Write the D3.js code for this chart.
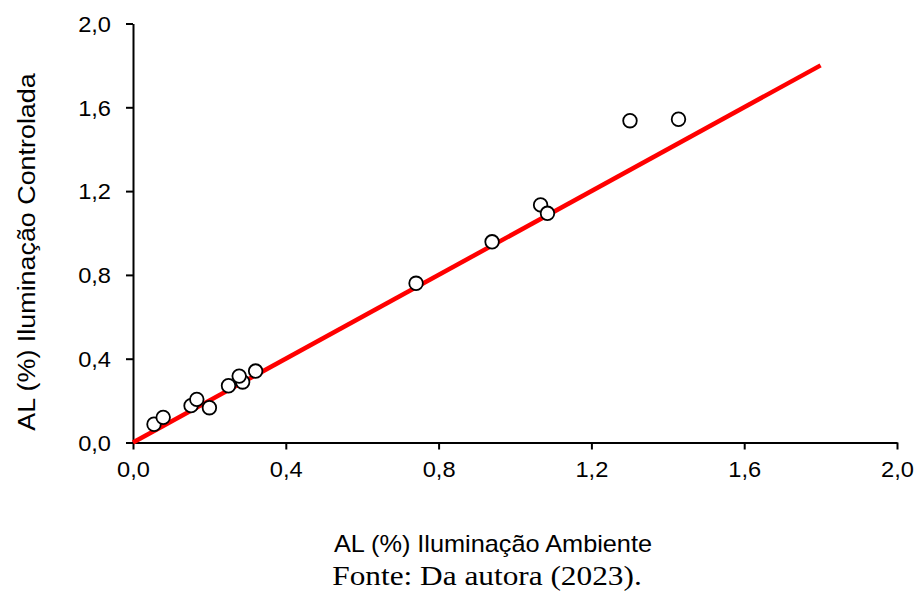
<!DOCTYPE html>
<html>
<head>
<meta charset="utf-8">
<script src="https://cdn.jsdelivr.net/npm/d3@7"></script>
<style>
  html, body { margin: 0; padding: 0; background: #fff; }
  svg { display: block; }
</style>
</head>
<body>
<svg id="chart" width="916" height="591"></svg>
<script>
// AL (%) under ambient lighting vs. controlled lighting
const ambiente = [0.055, 0.079, 0.152, 0.167, 0.200, 0.250, 0.287, 0.278, 0.321, 0.741, 0.940, 1.067, 1.085, 1.301, 1.428];
const controlada = [0.087, 0.120, 0.176, 0.206, 0.166, 0.271, 0.289, 0.317, 0.341, 0.760, 0.958, 1.134, 1.094, 1.536, 1.543];
const lineX = [0, 1.8];
const lineY = [0, 1.8];
const tickValues = [0, 0.4, 0.8, 1.2, 1.6, 2.0];

const fmt = v => d3.format(".1f")(v).replace(".", ",");
const SANS = "'Liberation Sans', Arial, sans-serif";
const SERIF = "'Liberation Serif', 'Times New Roman', serif";
const stretch = 1.1; // tick labels are set slightly wide

const svg = d3.select("#chart");
const x = d3.scaleLinear().domain([0, 2]).range([133, 897]);
const y = d3.scaleLinear().domain([0, 2]).range([442.5, 23.5]);

const xAxis = svg.append("g")
  .attr("transform", `translate(0,${y(0)})`)
  .call(d3.axisBottom(x).tickValues(tickValues).tickFormat(fmt).tickSize(7).tickSizeOuter(0));
const yAxis = svg.append("g")
  .attr("transform", `translate(${x(0)},0)`)
  .call(d3.axisLeft(y).tickValues(tickValues).tickFormat(fmt).tickSize(7).tickSizeOuter(0));

[xAxis, yAxis].forEach(g => {
  g.select(".domain").attr("stroke", "#000").attr("stroke-width", 2);
  g.selectAll(".tick line").attr("stroke", "#000").attr("stroke-width", 2);
  g.selectAll(".tick text")
    .attr("fill", "#000")
    .style("font-family", SANS)
    .style("font-size", "21.5px");
});
xAxis.selectAll(".tick text")
  .attr("y", 35).attr("dy", 0)
  .attr("transform", `scale(${stretch},1)`);
yAxis.selectAll(".tick text")
  .attr("x", -22 / stretch).attr("dy", "0.36em")
  .attr("transform", `scale(${stretch},1)`);

// fitted line
svg.append("line")
  .attr("x1", x(lineX[0])).attr("y1", y(lineY[0]))
  .attr("x2", x(lineX[1])).attr("y2", y(lineY[1]))
  .attr("stroke", "#ff0000").attr("stroke-width", 4.5);

// observations
svg.append("g").selectAll("circle")
  .data(ambiente.map((a, i) => [a, controlada[i]]))
  .join("circle")
  .attr("cx", d => x(d[0]))
  .attr("cy", d => y(d[1]))
  .attr("r", 6.8)
  .attr("fill", "#fff")
  .attr("stroke", "#000")
  .attr("stroke-width", 1.8);

svg.append("text")
  .attr("transform", `translate(493,552) scale(1.1,1)`)
  .attr("text-anchor", "middle")
  .style("font-family", SANS)
  .style("font-size", "23px")
  .text("AL (%) Iluminação Ambiente");

svg.append("text")
  .attr("transform", `translate(35,252) rotate(-90) scale(1.12,1)`)
  .attr("text-anchor", "middle")
  .style("font-family", SANS)
  .style("font-size", "24px")
  .text("AL (%) Iluminação Controlada");

svg.append("text")
  .attr("transform", `translate(487,585) scale(1.16,1)`)
  .attr("text-anchor", "middle")
  .style("font-family", SERIF)
  .style("font-size", "27px")
  .text("Fonte: Da autora (2023).");
</script>
</body>
</html>
